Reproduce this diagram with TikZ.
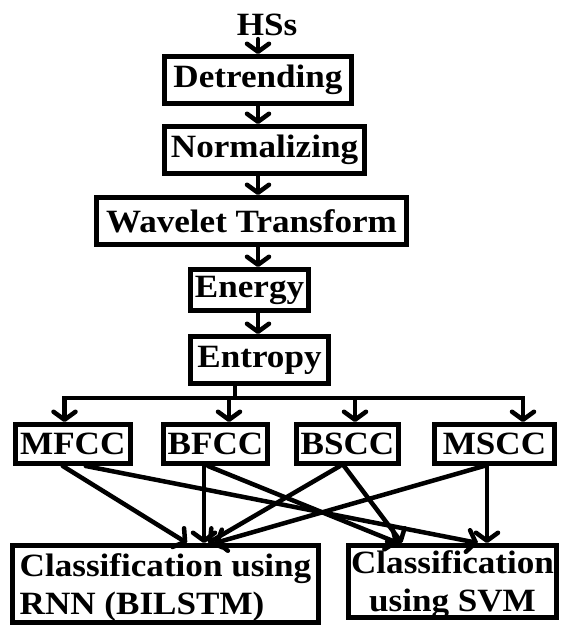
\documentclass[tikz,border=0pt]{standalone}
\usepackage{fontspec}
\setmainfont{Liberation Serif}[FakeStretch=1.08]
\usepackage{tikz}
\usetikzlibrary{shapes,arrows.meta,positioning,calc}

\tikzset{
  blk/.style={draw, line width=5pt, inner sep=0pt,
    font=\fontsize{32.5}{38}\selectfont\bfseries},
  wire/.style={line width=4.5pt},
  link/.style={wire, line cap=round,
    -{Straight Barb[round,length=8pt,width=22pt]}}
}

\begin{document}
\begin{tikzpicture}[x=1pt,y=-1pt]
  \useasboundingbox (0,0) rectangle (562,625);
  % processing chain
  \node[inner sep=1pt, font=\fontsize{32.5}{38}\selectfont\bfseries] (hss) at (267,25) {HSs};
  \node[blk, minimum width=187pt, minimum height=47pt] (det) at (258,80) {Detrending};
  \node[blk, minimum width=200pt, minimum height=47pt] (norm) at (264.5,150) {Normalizing};
  \node[blk, minimum width=310pt, minimum height=47pt] (wav) at (251.5,221) {Wavelet Transform};
  \node[blk, minimum width=118pt, minimum height=41pt] (ener) at (249.5,290) {Energy};
  \node[blk, minimum width=138pt, minimum height=47pt] (ent) at (259.5,360) {Entropy};
  % features
  \node[blk, minimum width=115.5pt, minimum height=39pt] (mfcc) at (72.75,444) {MFCC};
  \node[blk, minimum width=104pt, minimum height=39pt] (bfcc) at (215.5,444) {BFCC};
  \node[blk, minimum width=102pt, minimum height=39pt] (bscc) at (347.5,444) {BSCC};
  \node[blk, minimum width=120pt, minimum height=39pt] (mscc) at (494.5,444) {MSCC};
  % classifiers
  \node[blk, align=left, text depth=0pt, minimum width=306pt, minimum height=77pt] (rnn) at (165.5,584) {Classification using\\RNN (BILSTM)};
  \node[blk, align=center, text depth=0pt, minimum width=208pt, minimum height=72pt] (svm) at (452.5,581.5) {Classification\\using SVM};

  \coordinate (spine) at (258,0);
  \draw[link] ([yshift=-2pt]hss.south -| spine) -- (det.north -| spine);
  \draw[link] (det.south -| spine) -- (norm.north -| spine);
  \draw[link] (norm.south -| spine) -- (wav.north -| spine);
  \draw[link] (wav.south -| spine) -- (ener.north -| spine);
  \draw[link] (ener.south -| spine) -- (ent.north -| spine);

  % bus to the features
  \coordinate (bus) at (235,398);
  \draw[wire] ([xshift=-24.5pt]ent.south) -- (bus);
  \draw[link] (bus) -| ([xshift=-8.25pt]mfcc.north);
  \draw[link] (bus) -| ([xshift=13.5pt]bfcc.north);
  \draw[link] (bus) -| ([xshift=7.5pt]bscc.north);
  \draw[link] (bus) -| ([xshift=28.5pt]mscc.north);

  % features to classifiers
  \draw[link] ([xshift=-10pt]mfcc.south) -- ([xshift=21.5pt]rnn.north);
  \draw[link] ([xshift=13pt]mfcc.south) -- ([xshift=25.5pt]svm.north);
  \draw[link] ([xshift=-11.5pt]bfcc.south) -- ([xshift=38.5pt]rnn.north);
  \draw[link] ([xshift=-7.5pt]bfcc.south) -- ([xshift=-54.5pt]svm.north);
  \draw[link] ([xshift=-7.5pt]bscc.south) -- ([xshift=42.5pt]rnn.north);
  \draw[link] ([xshift=-3.5pt]bscc.south) -- ([xshift=-50.5pt]svm.north);
  \draw[link] ([xshift=-10.5pt]mscc.south) -- ([xshift=49.5pt]rnn.north);
  \draw[link] ([xshift=-7.5pt]mscc.south) -- ([xshift=34.5pt]svm.north);
\end{tikzpicture}
\end{document}
